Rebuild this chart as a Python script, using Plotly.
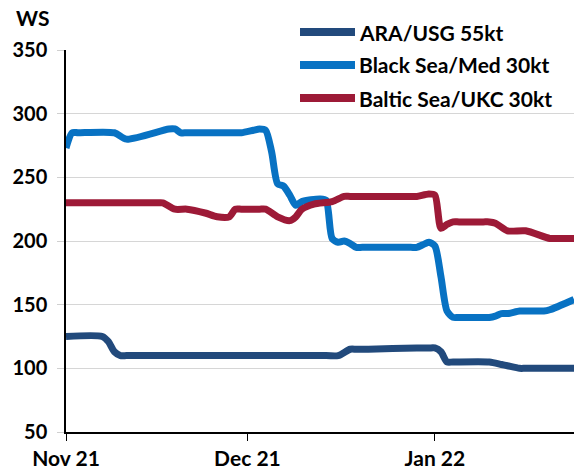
import plotly.graph_objects as go

# ---- data ----
ara_dates = ["2021-11-01", "2021-11-07", "2021-11-08", "2021-11-09", "2021-11-10",
             "2021-11-11", "2021-11-13", "2021-12-14", "2021-12-16", "2021-12-18",
             "2021-12-19", "2021-12-21", "2021-12-29", "2021-12-31", "2022-01-01",
             "2022-01-02", "2022-01-03", "2022-01-04", "2022-01-10", "2022-01-12",
             "2022-01-13", "2022-01-15", "2022-01-16", "2022-01-24"]
ara_vals = [125, 125, 121, 113, 110, 110, 110, 110, 110, 115,
            115, 115, 116, 116, 116, 113, 105, 105, 105, 103,
            102, 100, 100, 100]

bs_dates = ["2021-11-01", "2021-11-02", "2021-11-03", "2021-11-09", "2021-11-11",
            "2021-11-18", "2021-11-19", "2021-11-20", "2021-11-21", "2021-11-29",
            "2021-11-30", "2021-12-02", "2021-12-03", "2021-12-04", "2021-12-05",
            "2021-12-06", "2021-12-07", "2021-12-08", "2021-12-09", "2021-12-10",
            "2021-12-13", "2021-12-14", "2021-12-15", "2021-12-16", "2021-12-17",
            "2021-12-18", "2021-12-19", "2021-12-20", "2021-12-28", "2021-12-29",
            "2021-12-30", "2021-12-31", "2022-01-01", "2022-01-02", "2022-01-03",
            "2022-01-04", "2022-01-05", "2022-01-09", "2022-01-10", "2022-01-11",
            "2022-01-12", "2022-01-13", "2022-01-15", "2022-01-16", "2022-01-18",
            "2022-01-19", "2022-01-20", "2022-01-24"]
bs_vals = [273, 285, 285, 285, 280, 288, 288, 285, 285, 285,
           285, 287, 288, 287, 270, 245, 243, 236, 228, 231,
           233, 232, 202, 199, 200, 198, 195, 195, 195, 195,
           197, 199, 196, 172, 145, 140, 140, 140, 140, 141,
           143, 143, 145, 145, 145, 145, 146, 154]

bal_dates = ["2021-11-01", "2021-11-16", "2021-11-17", "2021-11-19", "2021-11-21",
             "2021-11-24", "2021-11-26", "2021-11-28", "2021-11-29", "2021-11-30",
             "2021-12-03", "2021-12-04", "2021-12-06", "2021-12-08", "2021-12-09",
             "2021-12-10", "2021-12-12", "2021-12-15", "2021-12-17", "2021-12-18",
             "2021-12-28", "2021-12-29", "2021-12-31", "2022-01-01", "2022-01-02",
             "2022-01-03", "2022-01-04", "2022-01-05", "2022-01-09", "2022-01-10",
             "2022-01-11", "2022-01-13", "2022-01-16", "2022-01-20", "2022-01-21",
             "2022-01-24"]
bal_vals = [230, 230, 230, 225, 225, 222, 219, 219, 225, 225,
            225, 225, 219, 216, 219, 225, 229, 231, 235, 235,
            235, 235, 237, 236, 210, 213, 215, 215, 215, 215,
            214, 208, 208, 202, 202, 202]

series_names = ["ARA/USG 55kt", "Black Sea/Med 30kt", "Baltic Sea/UKC 30kt"]
series_colors = ["#224a7c", "#0872c3", "#9d1a37"]
series_data = [(ara_dates, ara_vals), (bs_dates, bs_vals), (bal_dates, bal_vals)]

y_ticks = [50, 100, 150, 200, 250, 300, 350]
x_ticks = ["2021-11-01", "2021-12-01", "2022-01-01"]

FONT = "Lato"
W, H = 574, 476
ML, MR, MT, MB = 66, 0, 50, 44
PW, PH = W - ML - MR, H - MT - MB

fig = go.Figure()
for name, (d, v), c in zip(series_names, series_data, series_colors):
    fig.add_trace(go.Scatter(
        x=d, y=v, name=name, mode="lines",
        line=dict(color=c, width=7, shape="spline", smoothing=0.7),
        cliponaxis=False, showlegend=False,
    ))

# legend drawn in paper space (line swatch + label), one row per series
def px_x(px):
    return (px - ML) / PW

def px_y(py):
    return (H - MB - py) / PH

shapes, annotations = [], []
legend_rows_y = [32, 65, 98]
for name, c, ry in zip(series_names, series_colors, legend_rows_y):
    shapes.append(dict(type="line", xref="paper", yref="paper",
                       x0=px_x(300), x1=px_x(355), y0=px_y(ry), y1=px_y(ry),
                       line=dict(color=c, width=8), layer="above"))
    annotations.append(dict(text=name, xref="paper", yref="paper",
                            x=px_x(357), y=px_y(ry), xanchor="left", yanchor="middle",
                            showarrow=False,
                            font=dict(family=FONT, size=21, color="black", weight="bold")))

annotations.append(dict(
    text="WS", xref="paper", yref="paper", x=px_x(14), y=px_y(18),
    xanchor="left", yanchor="middle", showarrow=False,
    font=dict(family=FONT, size=21, color="black", weight="bold"),
))

fig.update_layout(
    width=W, height=H,
    margin=dict(l=ML, r=MR, t=MT, b=MB, autoexpand=False),
    plot_bgcolor="white", paper_bgcolor="white",
    font=dict(family=FONT, size=20, color="black", weight="bold"),
    showlegend=False,
    shapes=shapes,
    annotations=annotations,
    xaxis=dict(
        type="date", automargin=False,
        range=["2021-11-01", "2022-01-24"],
        tickvals=x_ticks,
        tickformat="%b %y",
        ticks="outside", ticklen=7, tickcolor="black", tickwidth=1,
        showline=True, linecolor="black", linewidth=1.5,
        showgrid=False, zeroline=False,
        tickfont=dict(family=FONT, size=21, weight="bold"),
    ),
    yaxis=dict(
        range=[50, 350], automargin=False,
        tickvals=y_ticks,
        ticks="outside", ticklen=7, tickcolor="#d0d0d0",
        showline=True, linecolor="black", linewidth=1.5,
        showgrid=True, gridcolor="#d6d6d6", gridwidth=1.2,
        zeroline=False, ticklabelstandoff=6,
        tickfont=dict(family=FONT, size=20, weight="bold"),
    ),
)

fig.write_html("out.html",
               config={"displayModeBar": False},
               post_script="document.body.style.margin='0';document.body.style.padding='0';")
